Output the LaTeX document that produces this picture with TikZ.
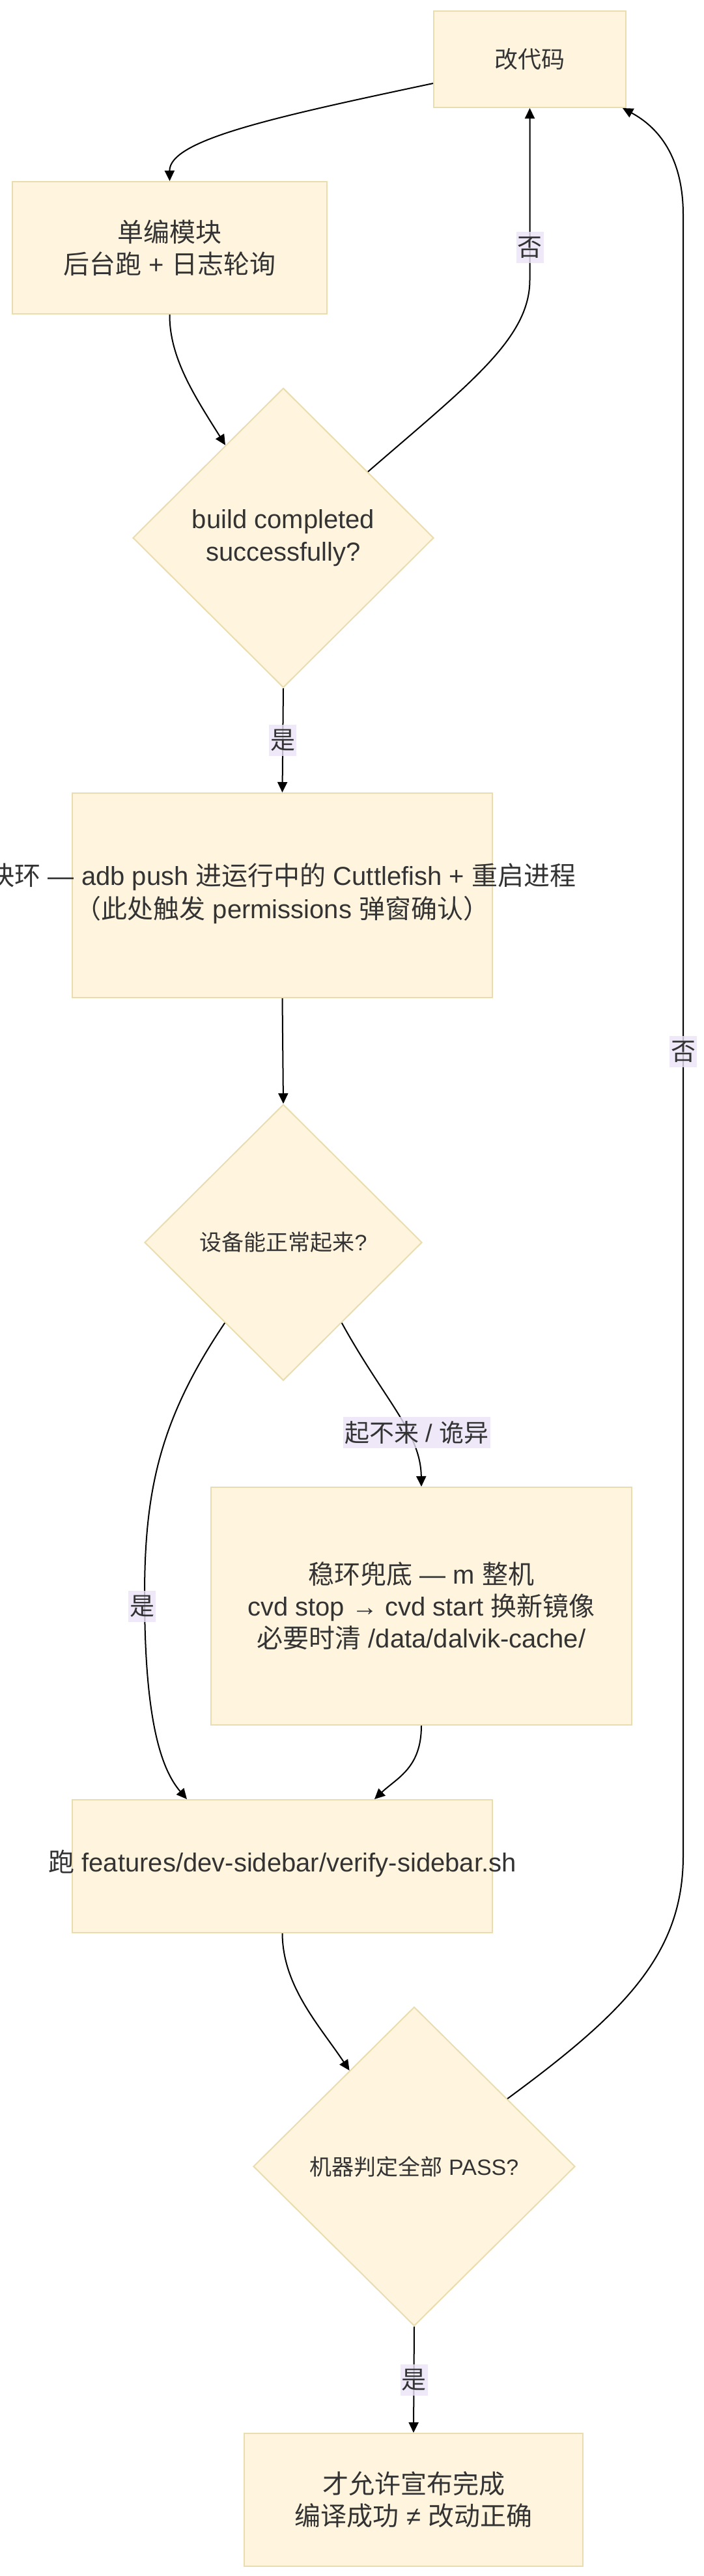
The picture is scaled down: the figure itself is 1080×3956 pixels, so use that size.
\documentclass[tikz,border=0pt]{standalone}
\usepackage{fontspec}
\setmainfont{Liberation Sans}
\newfontfamily\cjk{Noto Sans CJK SC}
\usetikzlibrary{shapes.geometric,arrows.meta}
\definecolor{nodefill}{HTML}{FFF4DD}
\definecolor{nodeline}{HTML}{E9DDB0}
\definecolor{labfill}{HTML}{EAE3F7}
\definecolor{txtc}{HTML}{333333}
\begin{document}
\begin{tikzpicture}[x=1pt,y=-1pt,
  box/.style={rectangle, fill=nodefill, draw=nodeline, line width=2pt, inner sep=0pt, text=txtc, align=center, font=\fontsize{40}{49}\selectfont},
  dia/.style={diamond, fill=nodefill, draw=nodeline, line width=2pt, inner sep=0pt, shape aspect=1, text=txtc, align=center, font=\fontsize{40}{50}\selectfont},
  txtnode/.style={text=txtc, align=center, inner sep=0pt, font=\fontsize{40}{51}\selectfont},
  smalltext/.style={font=\fontsize{34}{42}\selectfont},
  lab/.style={fill=labfill, fill opacity=0.8, text opacity=1, text=txtc, inner sep=2pt, font=\fontsize{38}{46}\selectfont, minimum height=48pt},
  conn/.style={draw=black, line width=2pt, -{Triangle[length=16pt,width=15pt]}}]
\path[use as bounding box, fill=white] (0,0) rectangle (1080,3956);

% nodes
\node[box, minimum width=295pt, minimum height=148pt, font=\fontsize{36}{44}\selectfont] (code) at (813.5,91) {{\cjk 改代码}};
\node[box, minimum width=483pt, minimum height=203pt] (single) at (260.5,380.5) {{\cjk 单编模块}\\{\cjk 后台跑} + {\cjk 日志轮询}};
\node[dia, minimum width=462pt, minimum height=460pt] (d1) at (435,826) {build completed\\successfully?};
\node[box, minimum width=645pt, minimum height=314pt] (fast) at (433.5,1375) {};
\node[txtnode] (fastT) at (433.5,1372) {{\cjk 快环} — adb push {\cjk 进运行中的} Cuttlefish + {\cjk 重启进程}\\{\cjk （此处触发} permissions {\cjk 弹窗确认）}};
\node[dia, smalltext, minimum width=426pt, minimum height=424pt] (d2) at (435,1908) {{\cjk 设备能正常起来}?};
\node[box, minimum width=646pt, minimum height=365pt] (stable) at (647,2466.5) {{\cjk 稳环兜底} — m {\cjk 整机}\\cvd stop → cvd start {\cjk 换新镜像}\\{\cjk 必要时清} /data/dalvik-cache/};
\node[box, minimum width=645pt, minimum height=204pt] (verify) at (433.5,2866) {};
\node[txtnode] (verifyT) at (433.5,2862) {{\cjk 跑} features/dev-sidebar/verify-sidebar.sh};
\node[dia, smalltext, minimum width=494pt, minimum height=490pt] (d3) at (636,3327) {{\cjk 机器判定全部} PASS?};
\node[box, minimum width=520pt, minimum height=204pt] (done) at (635,3839) {{\cjk 才允许宣布完成}\\{\cjk 编译成功} ≠ {\cjk 改动正确}};

% connectors
\draw[conn] (code.194) .. controls (420,180) and (260,215) .. (single.north);
\draw[conn] (single.south) .. controls (260,550) and (300,610) .. (d1.122);
\draw[conn] (d1.38) .. controls (720,590) and (813.5,520) .. (813.5,430) -- node[lab,pos=0.19]{\cjk 否} (code.south);
\draw[conn] (d1.south) -- node[lab]{\cjk 是} (fast.north);
\draw[conn] (fast.south) -- (d2.north);
\draw[conn] (d2.-54) .. controls (590,2150) and (646,2200) .. (stable.north);
\node[lab] (l6) at (640,2200) {{\cjk 起不来} / {\cjk 诡异}};
\draw[conn] (d2.234) .. controls (245,2180) and (222,2290) .. (222,2450) .. controls (222,2650) and (250,2720) .. ([xshift=-146.5pt]verify.north);
\node[lab] (l7) at (218,2467) {\cjk 是};
\draw[conn] (stable.south) .. controls (647,2715) and (610,2730) .. ([xshift=141.5pt]verify.north);
\draw[conn] (verify.south) .. controls (434,3050) and (490,3110) .. (d3.124);
\draw[conn] (d3.36) .. controls (960,3090) and (1049,3000) .. (1049,2850) -- node[lab,pos=0.49]{\cjk 否} (1049,330) .. controls (1049,240) and (1010,195) .. ([xshift=142.5pt]code.south);
\draw[conn] (d3.south) -- node[lab]{\cjk 是} (done.north);
\end{tikzpicture}
\end{document}
